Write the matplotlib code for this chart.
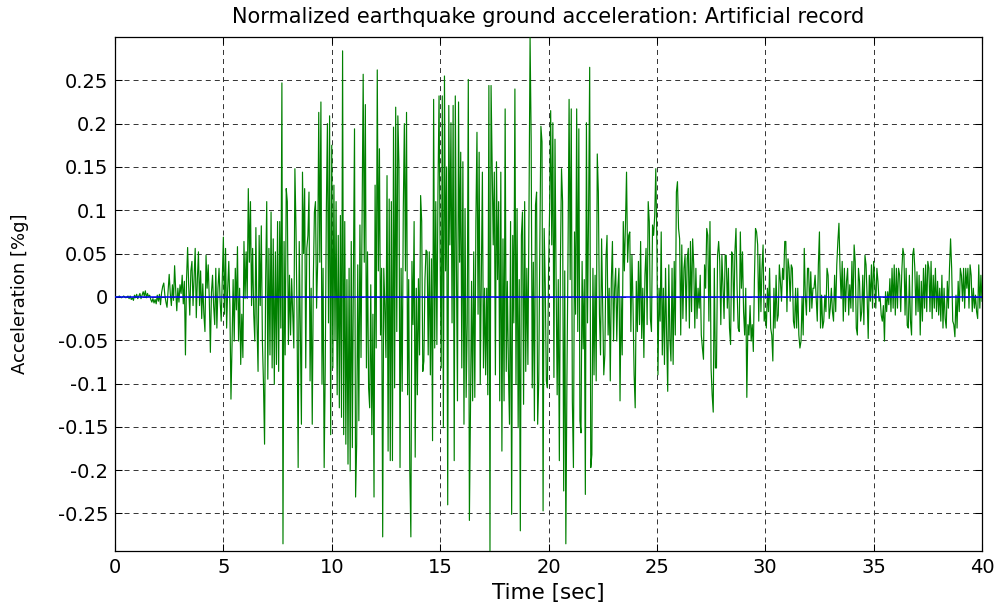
import numpy as np
import matplotlib
matplotlib.use('Agg')
import matplotlib.pyplot as plt

# sampling interval of the record [s]
dt = 0.05

# ground acceleration, in thousandths of g
accel_milli_g = [
    0, 0, 0, 0, 1, 0, -1, 0, 1, 0,
    -1, 0, 1, -2, 1, -3, -1, -4, 2, -1,
    3, -2, 1, 4, -2, 2, 6, 1, 7, -1,
    4, 0, 2, -3, -6, -2, -7, -3, -8, 2,
    -5, 3, -9, 5, 12, 16, 2, -6, -12, 8,
    26, 4, -10, 14, -4, 36, 8, -16, 10, -6,
    14, 4, 25, -8, 18, -67, 20, 57, 12, -21,
    30, 41, -10, 22, 56, -24, 20, 52, -10, 30,
    -25, 15, -20, -40, 48, 10, 37, -2, -64, 5,
    25, -10, -32, 33, -36, 10, 33, -5, -28, 20,
    69, -20, 56, -36, 10, 41, -10, -118, -55, 20,
    -51, 33, -15, 58, -51, 10, -78, -20, -70, 64,
    -2, 52, -2, 125, 40, 110, -10, 56, -20, -51,
    80, -30, -86, 71, -10, 82, -51, -100, -170, 20,
    110, -95, 56, -67, 98, -82, 67, -101, 52, -78,
    87, -86, 87, -36, 247, -285, 64, -67, 125, 110,
    -55, 25, -44, 21, -21, -59, 148, 79, -28, -197,
    64, -36, -147, 144, 50, 125, -82, 56, 71, 121,
    -97, 10, -147, 20, 98, 110, -13, 40, 213, 40,
    225, -101, 33, -197, -82, 100, 200, -30, 209, -159,
    175, -82, 129, -50, 110, -113, 71, -128, 94, -139,
    284, -159, 87, -170, 20, -193, 33, -201, 64, -174,
    30, 194, -231, -170, 37, -143, 83, -70, 90, 257,
    40, 222, -82, 52, -105, -128, 14, -159, -20, -231,
    129, -59, 262, 30, 171, -44, 33, -277, 33, -10,
    -70, 140, -178, 113, -189, 110, -189, 196, -105, 219,
    -40, 209, 152, -197, 33, -109, 100, 200, 30, 213,
    -113, 20, -197, -277, 41, -32, 87, -185, 10, -113,
    21, -67, 117, 87, -86, -74, 20, 54, 52, -67,
    52, -90, 44, -166, 228, -59, 110, -55, 121, 232,
    50, -82, 232, -151, 255, 30, 150, -240, 221, 60,
    201, -30, 221, -189, 232, 40, -120, 225, 40, 167,
    -82, 156, -147, 102, -116, -30, 251, -258, -132, 18,
    -120, 52, -116, 87, 190, -20, 167, -101, 20, 144,
    -82, 10, -90, 10, -113, 244, -293, 244, 148, 60,
    144, -90, 156, 20, 110, -120, 144, -178, 67, -120,
    217, -86, 18, -82, -147, 87, -251, 71, -30, 240,
    -101, 102, -151, 20, -270, 71, 98, -124, 110, -86,
    33, -78, 100, 299, 182, -105, 40, -143, 106, 121,
    -147, -97, 60, 197, 179, -247, 79, 14, -97, -105,
    25, 100, 215, 60, 201, -93, 182, 20, -113, 20,
    -189, 40, 148, 110, -224, 30, -285, -97, 50, 228,
    20, 217, -120, -197, 75, -20, 217, -40, 194, -143,
    -157, 41, -60, 20, -228, 201, -30, 100, 265, -197,
    -182, 33, -90, 25, -97, 165, 121, -20, -67, 67,
    -10, -90, -67, 44, 71, -44, 10, -97, 20, 64,
    -51, 10, 33, -51, 10, 33, -120, 0, -67, 87,
    30, 83, 144, 40, 71, 75, -40, 48, -10, -90,
    -128, 18, -40, 41, -32, 64, -48, 10, -70, 25,
    56, -32, 110, 87, -25, -40, 83, 71, 94, 148,
    60, -90, 10, -28, 75, -67, 10, -78, 33, -44,
    -109, 37, -48, -74, 33, -78, 41, -44, 121, 133,
    79, 67, -44, 60, -25, 33, 48, -28, 44, 56,
    -36, 64, -17, 67, 37, -36, 33, -25, 10, -13,
    25, -44, -59, -72, 37, 10, 79, 71, -28, 87,
    -82, -113, -133, 33, -82, -82, 48, 64, 41, -32,
    48, 10, -25, 48, 48, -13, 33, -36, -55, 52,
    48, -28, 52, 79, 10, -36, -40, 75, 10, 52,
    -17, -44, 10, -116, -32, -44, -10, -51, -32, -63,
    20, 79, 75, 60, -28, 48, -17, 33, 60, -28,
    -17, -36, 10, -17, 33, -36, -44, -74, 10, -36,
    25, -28, -21, 37, 18, -5, 33, 20, 64, 64,
    -17, 44, 33, -5, 37, 33, -28, -36, 10, -36,
    10, -44, -59, -51, 0, -44, 56, 0, -21, 33,
    33, -17, 29, -13, 10, 10, 25, -2, -28, 37,
    75, -36, 2, -36, -28, 2, -17, 33, 25, -25,
    -13, 10, -17, -28, 25, -17, 37, 64, 85, 33,
    -2, 41, -28, 33, -17, 18, 33, -21, 14, -13,
    41, -17, 60, 41, -36, -44, 33, 18, -28, -17,
    25, -32, 48, 37, 0, -48, 25, -5, 37, -13,
    41, 18, -13, 33, 18, -5, 0, -21, -28, -10,
    -51, 6, -17, 6, -9, 21, -17, 33, -13, 37,
    -21, 33, -13, 33, 25, -17, 29, 56, 48, -21,
    33, -33, -36, 25, -28, -44, 48, 56, 33, -21,
    29, -17, 25, -44, 18, -28, 33, -13, 37, -17,
    41, 33, -17, 41, -25, 25, -13, 33, -17, 18,
    -21, 10, -28, 25, -36, 10, -25, -36, 18, -13,
    33, 67, 33, -28, -32, -46, 2, -36, 18, -17,
    33, 25, -5, 33, -13, 33, 10, 33, -13, 37,
    25, -17, 10, -13, 2, -17, -25, 37, -13, 25,
    -5,
]

title_text = "Normalized earthquake ground acceleration: Artificial record"
x_label = "Time [sec]"
y_label = "Acceleration [%g]"
x_ticks = [0, 5, 10, 15, 20, 25, 30, 35, 40]
y_ticks = [-0.25, -0.2, -0.15, -0.1, -0.05, 0, 0.05, 0.1, 0.15, 0.2, 0.25]
y_tick_labels = ["-0.25", "-0.2", "-0.15", "-0.1", "-0.05", "0",
                 "0.05", "0.1", "0.15", "0.2", "0.25"]
x_range = (0, 40)
y_range = (-0.2933, 0.300)

acc = np.array(accel_milli_g, dtype=float) / 1000.0
t = np.arange(len(acc)) * dt

plt.rcParams['font.family'] = ['DejaVu Sans']
plt.rcParams['lines.scale_dashes'] = False

fig = plt.figure(figsize=(9.95, 6.06), dpi=100)
W, H = 995, 606
L, R, T, B = 115, 982, 37, 551
ax = fig.add_axes([L / W, 1 - B / H, (R - L) / W, (B - T) / H])

ax.plot(t, acc, color='#008000', lw=0.85, zorder=3)
ax.axhline(0, color='#0000ff', lw=1.1, zorder=4, snap=True)

ax.set_xlim(*x_range)
ax.set_ylim(*y_range)
ax.set_xticks(x_ticks)
ax.set_xticklabels([str(v) for v in x_ticks])
ax.set_yticks(y_ticks)
ax.set_yticklabels(y_tick_labels)

ax.grid(True, color='#333333', linestyle=(0, (3.6, 2.9)), linewidth=0.7)
ax.tick_params(direction='in', top=True, right=True, length=5, width=0.75,
               labelsize=14, pad=5, colors='black')
for s in ax.spines.values():
    s.set_linewidth(0.9)
    s.set_color('black')

ax.set_title(title_text, fontsize=15, pad=10)
ax.set_xlabel(x_label, fontsize=15.5)
ax.set_ylabel(y_label, fontsize=13)
ax.xaxis.set_label_coords(0.5, -0.062)
ax.yaxis.set_label_coords(-0.099, 0.5)

fig.savefig('out.png', dpi=100)
